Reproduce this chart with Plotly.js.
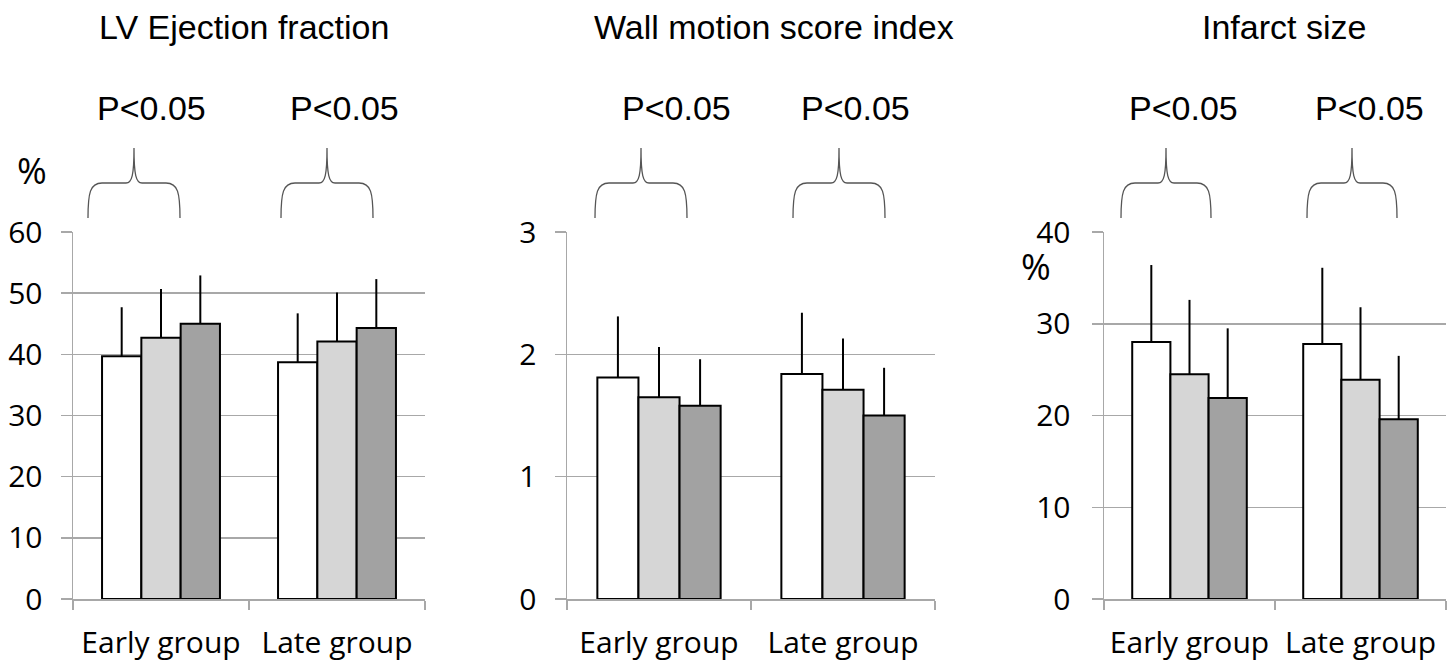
<!DOCTYPE html>
<html>
<head>
<meta charset="utf-8">
<script src="https://cdn.plot.ly/plotly-3.0.1.min.js"></script>
<style>html,body{margin:0;padding:0;background:#fff;}#chart{width:1453px;height:661px;}</style>
</head>
<body>
<div id="chart"></div>
<script>
// ---------- data ----------
const categories = ['Early group', 'Late group'];

// LV Ejection fraction (%)
const efBar1 = [39.7, 38.7];
const efBar2 = [42.7, 42.1];
const efBar3 = [45.0, 44.3];
const efErr1 = [8.0, 8.0];
const efErr2 = [8.0, 8.0];
const efErr3 = [7.9, 8.0];

// Wall motion score index
const wmBar1 = [1.81, 1.84];
const wmBar2 = [1.65, 1.71];
const wmBar3 = [1.58, 1.50];
const wmErr1 = [0.50, 0.50];
const wmErr2 = [0.41, 0.42];
const wmErr3 = [0.38, 0.39];

// Infarct size (%)
const isBar1 = [28.0, 27.8];
const isBar2 = [24.5, 23.9];
const isBar3 = [21.9, 19.6];
const isErr1 = [8.4, 8.3];
const isErr2 = [8.1, 7.9];
const isErr3 = [7.6, 6.9];

const panelTitles = ['LV Ejection fraction', 'Wall motion score index', 'Infarct size'];
const pLabel = 'P<0.05';

// ---------- layout helpers ----------
const W = 1453, H = 661;
const px = x => x / W;
const py = y => 1 - y / H;

const fills = ['#ffffff', '#d6d6d6', '#a2a2a2'];
const gridCol = '#a8a8a8';
const tickFont = {family: 'Open Sans, sans-serif', size: 30, color: '#000'};
const pctFont = {family: 'Open Sans, sans-serif', size: 36, color: '#000'};
const titleFont = {family: 'Liberation Sans, Arial, sans-serif', size: 34, color: '#000'};
const pFont = {family: 'Liberation Sans, Arial, sans-serif', size: 34, color: '#000'};

const panels = [
  {vals: [efBar1, efBar2, efBar3], errs: [efErr1, efErr2, efErr3], range: [0, 60], dtick: 10,
   xdom: [73, 425], braces: [[88, 180], [281, 373]], pcx: [151.5, 344], titleX: 244},
  {vals: [wmBar1, wmBar2, wmBar3], errs: [wmErr1, wmErr2, wmErr3], range: [0, 3], dtick: 1,
   xdom: [567, 935], braces: [[595, 687], [793, 885]], pcx: [676, 855], titleX: 774},
  {vals: [isBar1, isBar2, isBar3], errs: [isErr1, isErr2, isErr3], range: [0, 40], dtick: 10,
   xdom: [1104, 1446], braces: [[1121, 1211], [1307, 1397]], pcx: [1183, 1369], titleX: 1284}
];

const yTop = 232, yBot = 599;

const data = [];
const layout = {
  width: W, height: H,
  margin: {l: 0, r: 0, t: 0, b: 0},
  paper_bgcolor: '#fff', plot_bgcolor: '#fff',
  barmode: 'group', bargap: 0.33, bargroupgap: 0,
  showlegend: false,
  shapes: [], annotations: []
};

panels.forEach((p, i) => {
  const n = i === 0 ? '' : String(i + 1);
  for (let s = 0; s < 3; s++) {
    data.push({
      type: 'bar', x: categories, y: p.vals[s],
      xaxis: 'x' + n, yaxis: 'y' + n,
      name: 'Series ' + (s + 1),
      marker: {color: fills[s], line: {color: '#000', width: 2}},
      error_y: {type: 'data', symmetric: false, array: p.errs[s], arrayminus: [0, 0],
                color: '#000', thickness: 2, width: 0},
      hoverinfo: 'x+y'
    });
  }
  layout['xaxis' + n] = {
    domain: [px(p.xdom[0]), px(p.xdom[1])], anchor: 'y' + n,
    type: 'category', range: [-0.5, 1.5],
    showline: true, linecolor: gridCol, linewidth: 1.5,
    ticks: 'outside', tickson: 'boundaries', ticklen: 9, tickcolor: gridCol, tickwidth: 1.5,
    showgrid: false, zeroline: false,
    tickfont: tickFont, ticklabelstandoff: 16
  };
  layout['yaxis' + n] = {
    domain: [py(yBot), py(yTop)], anchor: 'x' + n,
    range: p.range, dtick: p.dtick, tick0: 0,
    showline: true, linecolor: gridCol, linewidth: 1.5,
    ticks: 'outside', ticklen: 11, tickcolor: gridCol, tickwidth: 1.5,
    showgrid: true, gridcolor: gridCol, gridwidth: 1.5, zeroline: false,
    tickfont: tickFont, ticklabelstandoff: i === 2 ? 15 : 12
  };
  // title
  layout.annotations.push({text: panelTitles[i], xref: 'paper', yref: 'paper',
    x: px(p.titleX), y: py(27), xanchor: 'center', yanchor: 'middle', showarrow: false, font: titleFont});
  // P labels and braces
  p.braces.forEach((b, k) => {
    layout.annotations.push({text: pLabel, xref: 'paper', yref: 'paper',
      x: px(p.pcx[k]), y: py(108), xanchor: 'center', yanchor: 'middle', showarrow: false, font: pFont});
    const xL = b[0], xR = b[1], xc = (xL + xR) / 2;
    const yb = 218, yh = 183, yp = 148;
    const P = (x, y) => px(x).toFixed(5) + ',' + py(y).toFixed(5);
    const path = 'M' + P(xL, yb) +
      ' C' + P(xL, yh + 10) + ' ' + P(xL + 2, yh) + ' ' + P(xL + 14, yh) +
      ' L' + P(xc - 8, yh) +
      ' C' + P(xc - 2, yh) + ' ' + P(xc, yh - 8) + ' ' + P(xc, yp) +
      ' C' + P(xc, yh - 8) + ' ' + P(xc + 2, yh) + ' ' + P(xc + 8, yh) +
      ' L' + P(xR - 14, yh) +
      ' C' + P(xR - 2, yh) + ' ' + P(xR, yh + 10) + ' ' + P(xR, yb);
    layout.shapes.push({type: 'path', xref: 'paper', yref: 'paper', path: path,
      line: {color: '#555', width: 1.3}});
  });
});

// "%" unit labels
layout.annotations.push({text: '%', xref: 'paper', yref: 'paper', x: px(32), y: py(171),
  xanchor: 'center', yanchor: 'middle', showarrow: false, font: pctFont});
layout.annotations.push({text: '%', xref: 'paper', yref: 'paper', x: px(1036), y: py(267),
  xanchor: 'center', yanchor: 'middle', showarrow: false, font: pctFont});

Plotly.newPlot('chart', data, layout, {displayModeBar: false, staticPlot: true});
</script>
</body>
</html>
